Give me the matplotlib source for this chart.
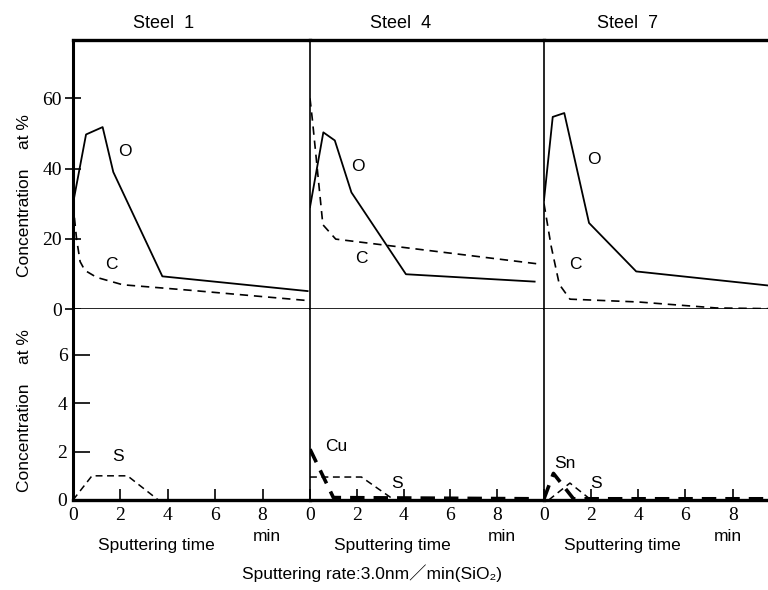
import matplotlib.pyplot as plt

W, H = 768, 590

titles = ["Steel  1", "Steel  4", "Steel  7"]

# top row: O (solid) and C (dashed), at%
o_t = [[0, 0.55, 1.25, 1.7, 3.77, 9.9],
       [0, 0.57, 1.06, 1.77, 4.1, 9.6],
       [0, 0.37, 0.86, 1.91, 3.91, 9.5]]
o_v = [[30, 49.7, 51.8, 39, 9.3, 5.1],
       [29, 50.3, 48, 33.2, 9.9, 7.8],
       [31, 54.7, 55.8, 24.5, 10.7, 6.7]]
c_t = [[0, 0.15, 0.3, 0.5, 1.0, 2.1, 5.0, 9.9],
       [0, 0.1, 0.55, 1.1, 9.8],
       [0, 0.3, 0.65, 1.1, 4.0, 7.3, 9.5]]
c_v = [[30, 20, 13.5, 11, 9, 6.9, 5.3, 2.4],
       [60, 54, 24, 19.9, 12.8],
       [30, 18, 7, 2.8, 2.0, 0.3, 0.1]]
o_lab = [(2.2, 44.8), (2.05, 40.6), (2.1, 42.7)]
c_lab = [(1.63, 12.6), (2.2, 14.5), (1.35, 12.8)]

# bottom row: S (thin dashed), Cu / Sn (thick dashed)
s_t = [[0, 0.8, 2.3, 3.6], [0, 2.2, 3.6], [0.2, 1.1, 2.0]]
s_v = [[0, 1.0, 1.0, 0], [0.95, 0.95, 0], [0, 0.7, 0]]
s_lab = [(1.9, 1.8), (3.7, 0.7), (2.2, 0.7)]
m_name = [None, "Cu", "Sn"]
m_t = [None, [0, 1.0, 9.6], [0, 0.4, 1.25, 9.5]]
m_v = [None, [2.1, 0.1, 0.05], [0.05, 1.1, 0.05, 0.05]]
m_lab = [None, (1.13, 2.2), (0.9, 1.5)]

lefts = [73, 310, 544]
rights = [310, 544, 768]
xmax = [10, 10, 9.5]
title_x = [0.384, 0.389, 0.373]

serif = "Liberation Serif"
sans = "Liberation Sans"

fig = plt.figure(figsize=(W / 100, H / 100), dpi=100)


def box(x0, x1, ytop, ybot):
    return [x0 / W, 1 - ybot / H, (x1 - x0) / W, (ybot - ytop) / H]


for i in range(3):
    top = fig.add_axes(box(lefts[i], rights[i], 40, 309))
    bot = fig.add_axes(box(lefts[i], rights[i], 309, 500))
    left_lw = 2.2 if i == 0 else 1.2

    # top panel
    top.plot(o_t[i], o_v[i], color="black", lw=1.3)
    top.plot(c_t[i], c_v[i], color="black", lw=1.2, ls=(0, (5, 3.5)))
    top.text(*o_lab[i], "O", fontsize=12.5, family=sans, ha="center", va="center")
    top.text(*c_lab[i], "C", fontsize=12.5, family=sans, ha="center", va="center")
    top.set_xlim(0, xmax[i])
    top.set_ylim(0, 76.6)
    top.set_xticks([])
    top.spines["right"].set_visible(False)
    top.spines["top"].set_linewidth(2.4)
    top.spines["left"].set_linewidth(left_lw)
    top.spines["bottom"].set_linewidth(1.2)
    top.set_title(titles[i], fontsize=13, family=sans, pad=9, x=title_x[i])

    # bottom panel
    bot.plot(s_t[i], s_v[i], color="black", lw=1.1, ls=(0, (4.5, 3)))
    bot.text(*s_lab[i], "S", fontsize=12.5, family=sans, ha="center", va="center")
    if m_name[i]:
        bot.plot(m_t[i], m_v[i], color="black", lw=2.6, ls=(0, (4, 2.5)))
        bot.text(*m_lab[i], m_name[i], fontsize=12.5, family=sans,
                 ha="center", va="center")
    bot.set_xlim(0, xmax[i])
    bot.set_ylim(0, 7.9)
    bot.spines["right"].set_visible(False)
    bot.spines["top"].set_visible(False)
    bot.spines["left"].set_linewidth(left_lw)
    bot.spines["bottom"].set_linewidth(2.4)
    bot.set_xticks([0, 2, 4, 6, 8])
    bot.tick_params(axis="x", direction="in", length=8, width=1.2,
                    labelsize=14, pad=5)
    for lab in bot.get_xticklabels():
        lab.set_family(serif)
    bot.set_xlabel("Sputtering time", fontsize=12.5, family=sans, labelpad=2)
    bot.xaxis.set_label_coords(0.35, -0.2)
    bot.text(0.82, -0.19, "min", transform=bot.transAxes, fontsize=12.5,
             family=sans, ha="center", va="center")

    if i == 0:
        top.set_yticks([0, 20, 40, 60])
        top.tick_params(axis="y", direction="inout", length=12, width=1.2,
                        labelsize=14, pad=2)
        bot.set_yticks([0, 2, 4, 6])
        bot.tick_params(axis="y", direction="in", length=12, width=1.2,
                        labelsize=14, pad=4)
        for lab in top.get_yticklabels() + bot.get_yticklabels():
            lab.set_family(serif)
        top.set_ylabel("Concentration    at %", fontsize=12.5, family=sans)
        bot.set_ylabel("Concentration    at %", fontsize=12.5, family=sans)
        top.yaxis.set_label_coords(-0.175, 0.42)
        bot.yaxis.set_label_coords(-0.175, 0.47)
    else:
        top.set_yticks([])
        bot.set_yticks([])

fig.text(372 / W, 1 - 573 / H, "Sputtering rate:3.0nm\uff0fmin(SiO\u2082)",
         fontsize=12.5, family=[sans, "Noto Sans CJK JP", "DejaVu Sans"],
         ha="center", va="center")

fig.savefig("out.png", dpi=100)
